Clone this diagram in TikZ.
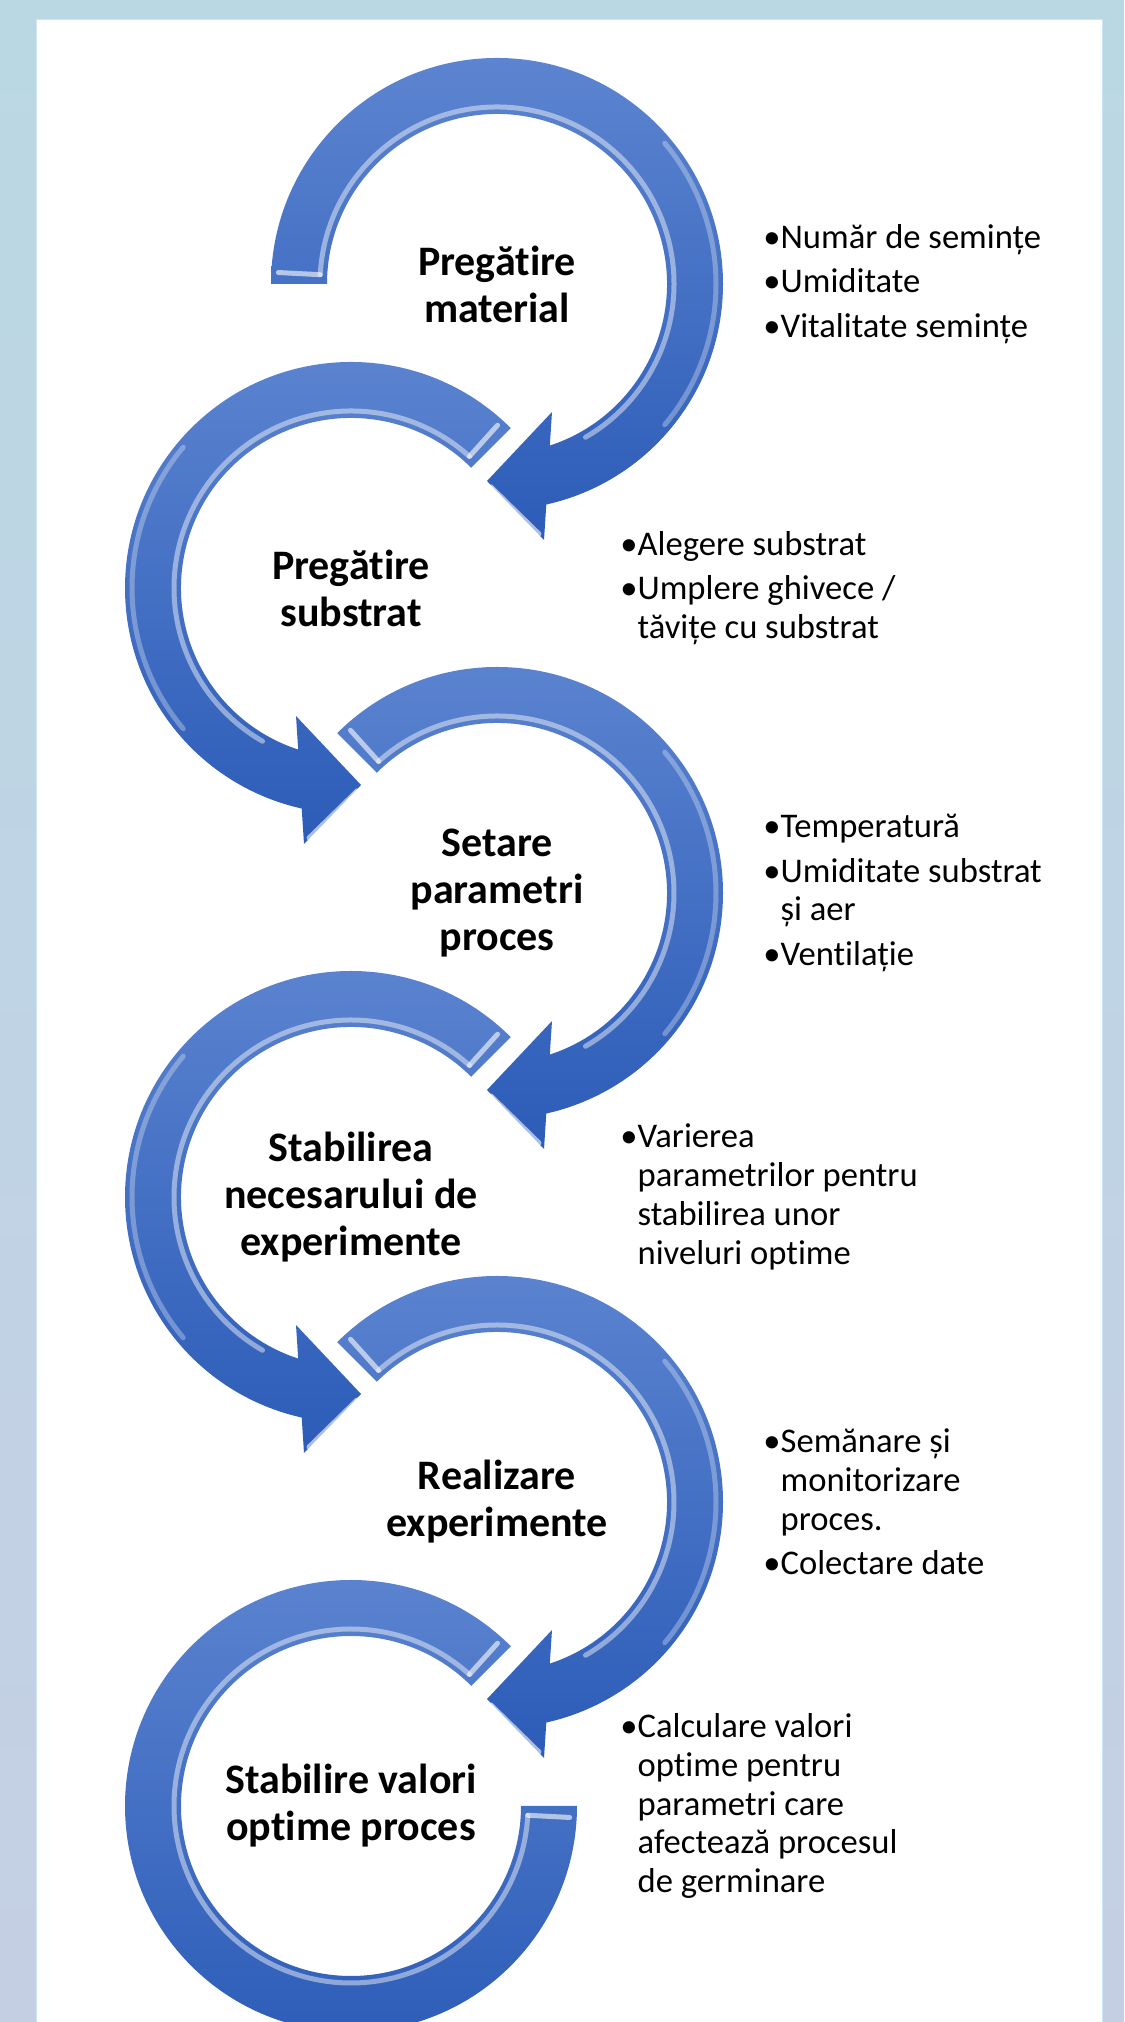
\documentclass[tikz,border=0pt]{standalone}
\usepackage{fontspec}
\setmainfont{Carlito}[Ligatures=NoCommon]
\definecolor{ringtop}{RGB}{92,132,208}
\definecolor{ringbot}{RGB}{44,92,184}
\definecolor{frametop}{RGB}{186,216,228}
\definecolor{framebot}{RGB}{197,207,228}
\definecolor{rim}{RGB}{205,228,245}
\begin{document}
\begin{tikzpicture}[x=.5pt,y=.5pt,
  ring/.style={top color=ringtop,bottom color=ringbot},
  gloss/.style={white,opacity=.45,line width=2.5,line cap=round},
  stage/.style={font=\bfseries\fontsize{21}{23.5}\selectfont,align=center,inner sep=0},
  notes/.style={font=\fontsize{17.3}{19.4}\selectfont,align=left,anchor=west,inner sep=0}]
  \def\rin{170}\def\rout{226}\def\rhi{177}\def\rlo{219}
  \useasboundingbox (0,0) rectangle (1124,2022);
  \shade[top color=frametop,bottom color=framebot] (0,0) rectangle (1124,2022);
  \fill[white,draw=rim] (36,-2) rectangle (1102,2003);
  % rings with heads, mirrored for the left column
  \foreach \cx/\cy/\s/\a in {497/1738/1/180,351/1434/-1/135,497/1129/1/135,351/825/-1/135,497/520/1/135}{
    \begin{scope}[shift={(\cx,\cy)},xscale=\s]
      \shade[ring] (\a:\rout) arc[start angle=\a,end angle=-77.4,radius=\rout]
        --(47,-256)--(-10,-197)--(55,-128)--(-71.9:\rin)
        arc[start angle=-71.9,end angle=\a,radius=\rin]--cycle;
      % bevel highlights
      \draw[gloss] (\a-3:\rhi) arc[start angle=\a-3,end angle=-60,radius=\rhi];
      \draw[gloss,opacity=.3] (40:\rlo) arc[start angle=40,end angle=-40,radius=\rlo];
      \draw[gloss,opacity=.6] (\a-3:\rhi) -- (\a-3:\rlo);
      \draw[gloss,opacity=.6] (-6,-203) -- (42,-250);
    \end{scope}}
  % last ring, no head
  \begin{scope}[shift={(351,216)},xscale=-1]
    \shade[ring] (135:\rout) arc[start angle=135,end angle=-180,radius=\rout]--(180:\rin)
      arc[start angle=-180,end angle=135,radius=\rin]--cycle;
    \draw[gloss] (132:\rhi) arc[start angle=132,end angle=-177,radius=\rhi];
    \draw[gloss,opacity=.6] (132:\rhi) -- (132:\rlo);
    \draw[gloss,opacity=.6] (-177:\rhi) -- (-177:\rlo);
  \end{scope}
  % stage titles
  \node[stage] (s1) at (497,1738) {Pregătire\\material};
  \node[stage] (s2) at (351,1434) {Pregătire\\substrat};
  \node[stage] (s3) at (497,1129) {Setare\\parametri\\proces};
  \node[stage] (s4) at (351,825) {Stabilirea\\necesarului de\\experimente};
  \node[stage] (s5) at (497,520) {Realizare\\experimente};
  \node[stage] (s6) at (351,216) {Stabilire valori\\optime proces};
  % bullet lists
  \node[notes] (n1) at (763,1738) {•Număr de semințe\\[3pt]•Umiditate\\[3pt]•Vitalitate semințe};
  \node[notes] (n2) at (620,1434) {•Alegere substrat\\[3pt]•Umplere ghivece /\\\hphantom{•}tăvițe cu substrat};
  \node[notes] (n3) at (763,1129) {•Temperatură\\[3pt]•Umiditate substrat\\\hphantom{•}și aer\\[3pt]•Ventilație};
  \node[notes] (n4) at (620,825) {•Varierea\\\hphantom{•}parametrilor pentru\\\hphantom{•}stabilirea unor\\\hphantom{•}niveluri optime};
  \node[notes] (n5) at (763,520) {•Semănare și\\\hphantom{•}monitorizare\\\hphantom{•}proces.\\[3pt]•Colectare date};
  \node[notes] (n6) at (620,216) {•Calculare valori\\\hphantom{•}optime pentru\\\hphantom{•}parametri care\\\hphantom{•}afectează procesul\\\hphantom{•}de germinare};
\end{tikzpicture}
\end{document}
